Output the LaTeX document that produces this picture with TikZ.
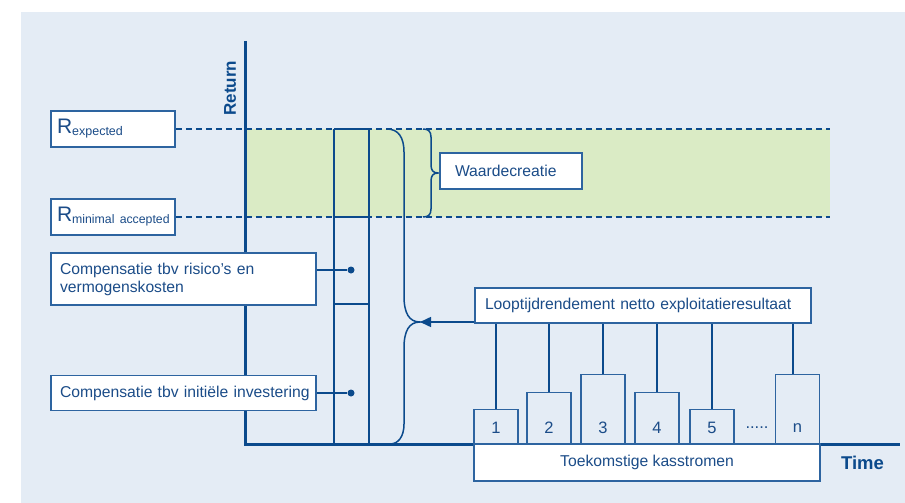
\documentclass[tikz,border=0pt]{standalone}
\usepackage{fontspec}
\setmainfont{Liberation Sans}
\usetikzlibrary{arrows.meta}
\definecolor{bg}{HTML}{E4ECF5}
\definecolor{grn}{HTML}{DAEBC5}
\definecolor{ln}{HTML}{0B4A8C}
\definecolor{bx}{HTML}{2D64A0}
\definecolor{tx}{HTML}{1B4C88}
\begin{document}
\begin{tikzpicture}[x=1pt,y=-1pt,
  box/.style={draw=bx, line width=1.5pt, fill=white, text=tx, inner ysep=0pt, inner xsep=9pt,
    font=\fontsize{15.7}{18}\selectfont},
  lbox/.style={box, align=left},
  bar/.style={draw=bx, line width=1.5pt, fill=bg, minimum width=44pt, anchor=south, inner sep=0pt},
  num/.style={text=tx, font=\fontsize{16.5}{18}\selectfont, inner sep=0pt},
  thin/.style={draw=ln, line width=1.5pt},
  axis/.style={draw=ln, line width=3pt},
  dline/.style={draw=ln, line width=1.5pt, dash pattern=on 6pt off 4pt},
  dot/.style={circle, fill=ln, inner sep=0pt, minimum size=7pt},
  lab/.style={text=ln, font=\bfseries\fontsize{17}{20}\selectfont, inner sep=0pt}]
\useasboundingbox (0,0) rectangle (905,503);
\fill[white] (0,0) rectangle (905,503);
\fill[bg] (21,12) rectangle (905,503);
\fill[grn] (245,129) rectangle (830,217);

% R boxes
\node[lbox, inner xsep=6pt, text width=112pt, minimum height=36pt] (rexp) at (113,129)
  {\fontsize{21}{22}\selectfont R\raisebox{-2pt}{\fontsize{12.5}{14}\selectfont expected}};
\node[lbox, inner xsep=6pt, text width=112pt, minimum height=36pt] (rmin) at (113,217)
  {\fontsize{21}{22}\selectfont R\raisebox{-2pt}{\fontsize{12.3}{14}\selectfont minimal accepted}};
\coordinate (dte) at (830,129);
\coordinate (dbe) at (830,217);
\draw[dline] (rexp.east) -- (dte);
\draw[dline] (rmin.east) -- (dbe);

% axes
\coordinate (o) at (245,444);
\coordinate (ytop) at (245,41);
\coordinate (xend) at (900,444);
\draw[axis] (ytop) -- (o) -- (xend);
\node[lab, rotate=90] (ret) at (230,88) {Return};
\node[lab, font=\bfseries\fontsize{18.5}{20}\selectfont] (time) at (862.5,463) {Time};

% stacked column
\coordinate (c1t) at (334,129); \coordinate (c1b) at (334,444);
\coordinate (c2t) at (369,129); \coordinate (c2b) at (369,444);
\draw[thin] (c1t) -- (c1b);
\draw[thin] (c2t) -- (c2b);
\draw[thin] (c1t) -- (c2t);
\draw[thin] (334,217) -- (369,217);
\draw[thin] (334,304) -- (369,304);

% compensation boxes
\node[lbox, text width=247pt, minimum height=52pt] (comp1) at (183.5,279)
  {Compensatie tbv risico’s en\\vermogenskosten};
\node[lbox, text width=247pt, minimum height=35pt] (comp2) at (183.5,393)
  {\mbox{Compensatie tbv initiële investering}};
\node[dot] (d1) at (351,270) {};
\node[dot] (d2) at (351,393) {};
\draw[thin] (comp1.east |- d1) -- (d1);
\draw[thin] (comp2.east) -- (d2);

% big brace
\coordinate (tip) at (420,322);
\draw[thin] (387,129) .. controls (398,129) and (404,137) .. (404,152) -- (404,296)
  .. controls (404,313) and (409,322) .. (tip)
  .. controls (409,322) and (404,331) .. (404,348) -- (404,424)
  .. controls (404,437) and (398,444) .. (390,444);

% small brace
\coordinate (stip) at (438,173);
\draw[thin] (423,129) .. controls (428,129) and (431,131) .. (431,137) -- (431,165)
  .. controls (431,170) and (433,173) .. (stip)
  .. controls (433,173) and (431,176) .. (431,181) -- (431,209)
  .. controls (431,215) and (428,217) .. (423,217);
\node[lbox, inner xsep=15pt, text width=112pt, minimum height=36pt] (wc) at (511,171) {Waardecreatie};

% looptijd box
\node[lbox, inner xsep=10pt, text width=316pt, minimum height=35pt] (loop) at (643,305.5)
  {Looptijdrendement netto exploitatieresultaat};
\draw[thin, -{Triangle[length=11pt,width=10pt]}] (loop.west |- tip) -- (tip);

% bars
\node[bar, minimum height=34pt] (b1) at (496,444) {};
\node[bar, minimum height=51pt] (b2) at (549,444) {};
\node[bar, minimum height=69pt] (b3) at (603,444) {};
\node[bar, minimum height=51pt] (b4) at (657,444) {};
\node[bar, minimum height=34pt] (b5) at (712,444) {};
\node[bar, minimum height=69pt] (bn) at (797.5,444) {};
\node[num] (n1) at (496,428) {1};
\node[num] (n2) at (549,428) {2};
\node[num] (n3) at (603,428) {3};
\node[num] (n4) at (657,428) {4};
\node[num] (n5) at (712,428) {5};
\node[num] (nn) at (797.5,428) {n};
\node[num] (dots) at (757,428) {.....};
\draw[thin] (b1.north) -- (b1.north |- loop.south);
\draw[thin] (b2.north) -- (b2.north |- loop.south);
\draw[thin] (b3.north) -- (b3.north |- loop.south);
\draw[thin] (b4.north) -- (b4.north |- loop.south);
\draw[thin] (b5.north) -- (b5.north |- loop.south);
\draw[thin] ([xshift=-4.5pt]bn.north) -- ([xshift=-4.5pt]bn.north |- loop.south);
\draw[axis] (474,444) -- (820,444);

% future cash flows
\node[box, minimum width=346pt, minimum height=37pt] (tk) at (647,462.5) {Toekomstige kasstromen};
\end{tikzpicture}
\end{document}
